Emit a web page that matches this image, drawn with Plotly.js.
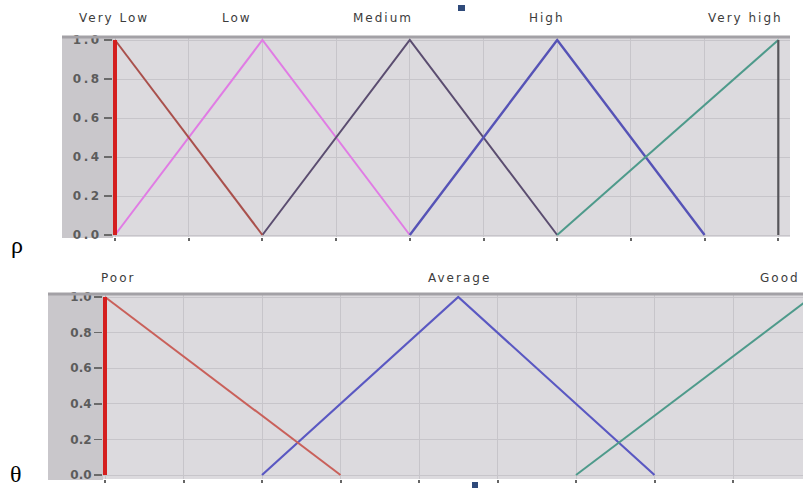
<!DOCTYPE html>
<html>
<head>
<meta charset="utf-8">
<script src="https://cdn.plot.ly/plotly-3.0.1.min.js"></script>
<style>
html,body{margin:0;padding:0;background:#fff;}
#chart{width:803px;height:488px;}
.annotation-text{letter-spacing:2px;}
.ytick text{letter-spacing:2.5px;}
</style>
</head>
<body>
<div id="chart"></div>
<script>
// ---- data (membership function break points) ----
const rhoVeryLowX  = [0, 0, 2];
const rhoVeryLowY  = [0, 1, 0];
const rhoLowX      = [0, 2, 4];
const rhoLowY      = [0, 1, 0];
const rhoMediumX   = [2, 4, 6];
const rhoMediumY   = [0, 1, 0];
const rhoHighX     = [4, 6, 8];
const rhoHighY     = [0, 1, 0];
const rhoVeryHighX = [6, 9, 9];
const rhoVeryHighY = [0, 1, 0];

const thetaPoorX    = [0, 0, 3];
const thetaPoorY    = [0, 1, 0];
const thetaAverageX = [2, 4.5, 7];
const thetaAverageY = [0, 1, 0];
const thetaGoodX    = [6, 9];
const thetaGoodY    = [0, 1];

const rhoLabels   = ['Very Low', 'Low', 'Medium', 'High', 'Very high'];
const thetaLabels = ['Poor', 'Average', 'Good'];
const yTickVals = [0, 0.2, 0.4, 0.6, 0.8, 1.0];
const yTickText = ['0.0', '0.2', '0.4', '0.6', '0.8', '1.0'];

// ---- helpers ----
const W = 803, H = 488;
const px = v => v / W;
const py = v => 1 - v / H;

function seg(xs, ys, i0, i1, color, width, xa, ya) {
  return {x: xs.slice(i0, i1 + 1), y: ys.slice(i0, i1 + 1), type: 'scatter', mode: 'lines',
          line: {color: color, width: width}, xaxis: xa, yaxis: ya, hoverinfo: 'skip'};
}

const traces = [
  // rho panel
  seg(rhoLowX, rhoLowY, 0, 2, '#e07ce4', 2, 'x', 'y'),
  seg(rhoMediumX, rhoMediumY, 0, 2, '#5b4d70', 2, 'x', 'y'),
  seg(rhoHighX, rhoHighY, 0, 2, '#5653b6', 2.4, 'x', 'y'),
  seg(rhoVeryHighX, rhoVeryHighY, 0, 1, '#4e9a8b', 2, 'x', 'y'),
  seg(rhoVeryHighX, rhoVeryHighY, 1, 2, '#56555a', 2.2, 'x', 'y'),
  seg(rhoVeryLowX, rhoVeryLowY, 1, 2, '#a9504c', 2, 'x', 'y'),
  seg(rhoVeryLowX, rhoVeryLowY, 0, 1, '#d41f1f', 4, 'x', 'y'),
  // theta panel
  seg(thetaAverageX, thetaAverageY, 0, 2, '#5a58c2', 2.2, 'x2', 'y2'),
  seg(thetaGoodX, thetaGoodY, 0, 1, '#4e9a8b', 2, 'x2', 'y2'),
  seg(thetaPoorX, thetaPoorY, 1, 2, '#c9605a', 2, 'x2', 'y2'),
  seg(thetaPoorX, thetaPoorY, 0, 1, '#d41f1f', 4, 'x2', 'y2')
];

const tickFont = {family: 'DejaVu Sans', size: 12, color: '#5c5c5c', weight: 'bold'};
const labFont  = {family: 'DejaVu Sans', size: 12, color: '#3c3c3c'};

function xAxis(domain, range, anchor) {
  return {domain: domain, range: range, anchor: anchor, dtick: 1, tick0: 0,
          showgrid: true, gridcolor: '#c7c5ca', gridwidth: 1, zeroline: false,
          showline: false, ticks: 'outside', ticklen: 3, tickwidth: 2, tickcolor: '#666',
          showticklabels: false, fixedrange: true};
}
function yAxis(domain, range, anchor) {
  return {domain: domain, range: range, anchor: anchor, tickvals: yTickVals, ticktext: yTickText,
          showgrid: true, gridcolor: '#c7c5ca', gridwidth: 1, zeroline: false, showline: false,
          ticks: 'outside', ticklen: 8, tickwidth: 1.5, tickcolor: '#6a6a6a',
          tickfont: tickFont, fixedrange: true};
}

// top panel: x=0 at 115px, 73.7 px per unit; y: 1 at 40px, 0 at 235px
const topX0 = 113, topX1 = 790, topUnit = 73.7;
const topYt = 37, topYb = 237, topY1 = 40, topY0 = 235;
const topYunit = topY0 - topY1;
// bottom panel: x=0 at 105px, 78.5 px per unit; y: 1 at 297px, 0 at 475px
const botX0 = 103, botX1 = 803, botUnit = 78.5;
const botYt = 294, botYb = 479, botY1 = 297, botY0 = 475;
const botYunit = botY0 - botY1;

const layout = {
  width: W, height: H,
  margin: {l: 0, r: 0, t: 0, b: 0, pad: 0},
  paper_bgcolor: '#ffffff', plot_bgcolor: '#dcdade',
  showlegend: false,
  xaxis: xAxis([px(topX0), px(topX1)], [-(115 - topX0) / topUnit, (topX1 - 115) / topUnit], 'y'),
  yaxis: yAxis([py(topYb), py(topYt)], [-(topYb - topY0) / topYunit, 1 + (topY1 - topYt) / topYunit], 'x'),
  xaxis2: xAxis([px(botX0), px(botX1)], [-(105 - botX0) / botUnit, (botX1 - 105) / botUnit], 'y2'),
  yaxis2: yAxis([py(botYb), py(botYt)], [-(botYb - botY0) / botYunit, 1 + (botY1 - botYt) / botYunit], 'x2'),
  shapes: [
    // tick-label gray bands
    {type: 'rect', xref: 'paper', yref: 'paper', x0: px(62), x1: px(topX0), y0: py(238), y1: py(topYt),
     fillcolor: '#c9c7cb', line: {width: 0}, layer: 'below'},
    {type: 'rect', xref: 'paper', yref: 'paper', x0: px(48), x1: px(botX0), y0: py(480), y1: py(botYt),
     fillcolor: '#c9c7cb', line: {width: 0}, layer: 'below'},
    // top border bands
    {type: 'line', xref: 'paper', yref: 'paper', x0: px(62), x1: px(topX1), y0: py(topYt), y1: py(topYt),
     line: {color: '#a3a1a6', width: 3}},
    {type: 'line', xref: 'paper', yref: 'paper', x0: px(48), x1: 1, y0: py(botYt), y1: py(botYt),
     line: {color: '#a3a1a6', width: 3}},
    // small blue handles
    {type: 'rect', xref: 'paper', yref: 'paper', x0: px(458), x1: px(465), y0: py(11), y1: py(5),
     fillcolor: '#2f4a7a', line: {width: 0}},
    {type: 'rect', xref: 'paper', yref: 'paper', x0: px(472), x1: px(478), y0: py(488), y1: py(482),
     fillcolor: '#2f4a7a', line: {width: 0}}
  ],
  annotations: []
};

const rhoLabelX = [-0.01, 1.66, 3.64, 5.86, 8.56];
rhoLabels.forEach((t, i) => layout.annotations.push({
  text: t, xref: 'x', yref: 'paper', x: rhoLabelX[i], y: py(18), xanchor: 'center', yanchor: 'middle',
  showarrow: false, font: labFont
}));
const thetaLabelX = [0.17, 4.52, 8.32];
const thetaAnchor = ['center', 'center', 'left'];
thetaLabels.forEach((t, i) => layout.annotations.push({
  text: t, xref: 'x2', yref: 'paper', x: thetaLabelX[i], y: py(278), xanchor: thetaAnchor[i], yanchor: 'middle',
  showarrow: false, font: labFont
}));
layout.annotations.push({text: 'ρ', xref: 'paper', yref: 'paper', x: px(18), y: py(245), xanchor: 'center',
  yanchor: 'middle', showarrow: false, font: {family: 'Liberation Serif', size: 24, color: '#000'}});
layout.annotations.push({text: 'θ', xref: 'paper', yref: 'paper', x: px(17), y: py(474), xanchor: 'center',
  yanchor: 'middle', showarrow: false, font: {family: 'Liberation Serif', size: 24, color: '#000'}});

Plotly.newPlot('chart', traces, layout, {staticPlot: true, displayModeBar: false});
</script>
</body>
</html>
